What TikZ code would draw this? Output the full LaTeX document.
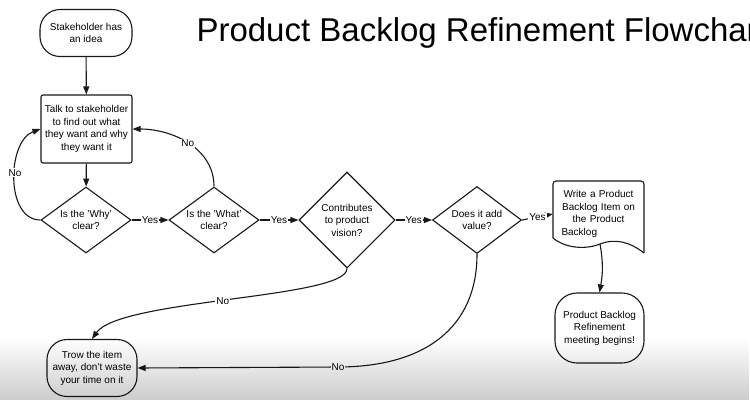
\documentclass[tikz,border=0pt]{standalone}
\usepackage{fontspec}
\setmainfont{Liberation Sans}
\usepackage{tikz}
\usetikzlibrary{arrows.meta, shapes.geometric, fadings}
\definecolor{flowLine}{RGB}{25, 25, 25}
\tikzfading[name=fadeScreen, top color=transparent!100, bottom color=transparent!0]

\begin{document}
\begin{tikzpicture}[x=1pt, y=-1pt, >={Triangle[length=8pt, width=6pt]},
    font=\fontsize{10}{12.5}\selectfont,
    flow/.style={->, line width=1.1pt, draw=flowLine},
    term/.style={draw=flowLine, line width=1.1pt, rectangle, rounded corners=20pt,
      align=center, inner sep=0pt},
    proc/.style={draw=flowLine, line width=1.1pt, rectangle, rounded corners=2pt,
      align=center, inner sep=0pt},
    decide/.style={draw=flowLine, line width=1.1pt, diamond, aspect=1.4,
      align=center, inner sep=0pt},
    lbl/.style={fill=white, inner sep=1pt}]
  \useasboundingbox (0,0) rectangle (750,400);
  \fill[white] (0,0) rectangle (750,400);

  \node[anchor=base west, font=\fontsize{33}{40}\selectfont] (title) at (193,41)
    {Product Backlog Refinement Flowchart};

  \node[term, minimum width=92pt, minimum height=47pt] (idea) at (86,33)
    {Stakeholder has\\an idea};
  \node[proc, minimum width=91pt, minimum height=68pt] (talk) at (86.5,129)
    {Talk to stakeholder\\to find out what\\they want and why\\they want it};

  % decisions in a row
  \node[decide, minimum width=90pt, minimum height=66pt] (why) at (86,220)
    {Is the 'Why'\\clear?};
  \node[decide, minimum width=90pt, minimum height=66pt] (what) at (214,220)
    {Is the 'What'\\clear?};
  \node[decide, aspect=1, minimum width=96pt, minimum height=96pt] (vision) at (347,220)
    {Contributes\\to product\\vision?};
  \node[decide, minimum width=89pt, minimum height=67pt] (value) at (477,220)
    {Does it add\\value?};

  % document shape
  \node[align=center, text width=74pt, minimum width=91pt, minimum height=66pt,
    inner sep=0pt] (write) at (598.5,214)
    {Write a Product\\Backlog Item on\\the Product\\\makebox[\linewidth][l]{Backlog}};
  \draw[line width=1.1pt, draw=flowLine, rounded corners=3pt]
    (553,238) -- (553,181) -- (644,181) -- (644,253);
  \draw[line width=1.1pt, draw=flowLine]
    (644,253) .. controls (630,242) and (615,238) .. (600,244)
    .. controls (585,250) and (565,248) .. (553,238);
  \coordinate (docb) at (600,244);

  \node[term, rounded corners=22pt, minimum width=89pt, minimum height=70pt] (meet)
    at (599.5,328) {Product Backlog\\Refinement\\meeting begins!};
  \node[term, minimum width=90pt, minimum height=57pt] (trow) at (92,368)
    {Trow the item\\away, don't waste\\your time on it};
  \coordinate (nobend) at (338,367);

  \draw[flow] (idea) -- (talk);
  \draw[flow] (talk) -- (why);
  \draw[flow] (why.east) -- node[lbl] {Yes} (what.west);
  \draw[flow] (what.east) -- node[lbl] {Yes} (vision.west);
  \draw[flow] (vision.east) -- node[lbl] {Yes} (value.west);
  \draw[flow] (value.east) -- node[lbl] {Yes} (write.west);
  \draw[flow] (docb) to[out=-80, in=80] (meet.north);

  \draw[flow] (why.west) to[out=180, in=200] node[lbl, pos=0.55] {No} (talk.west);
  \draw[flow] (what.north) to[out=90, in=0] node[lbl] {No} (talk.east);
  \draw[flow] (vision.south) .. controls +(0,30) and +(28,-40) ..
    node[lbl, pos=0.52] {No} (trow.north);
  \draw[flow] (value.south) .. controls +(0,75) and +(85,0) .. (nobend)
    node[lbl] {No} -- (trow.east);

  % screen shading at the bottom
  \fill[black, opacity=0.2, path fading=fadeScreen] (0,338) rectangle (750,400);
\end{tikzpicture}
\end{document}
